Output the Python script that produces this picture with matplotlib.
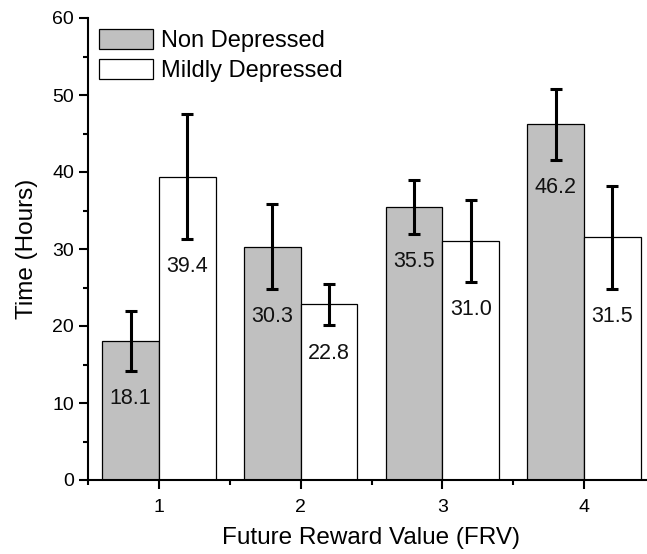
import matplotlib
matplotlib.use("Agg")
import matplotlib.pyplot as plt
import numpy as np
from matplotlib.ticker import MultipleLocator

plt.rcParams['font.family'] = ['Liberation Sans', 'DejaVu Sans']

categories = [1, 2, 3, 4]
non_depressed = [18.1, 30.3, 35.5, 46.2]
non_depressed_err = [3.9, 5.5, 3.5, 4.6]
mildly_depressed = [39.4, 22.8, 31.0, 31.5]
mildly_depressed_err = [8.1, 2.7, 5.3, 6.7]
series_names = ['Non Depressed', 'Mildly Depressed']

fig = plt.figure(figsize=(6.47, 5.54), dpi=100)
ax = fig.add_axes([88/647, 1-480/554, (655-88)/647, (480-18)/554])

x = np.array(categories, dtype=float)
w = 0.4
err_kw = dict(ecolor='black', elinewidth=2.2, capsize=4.5, capthick=2.2)
ax.bar(x - w/2, non_depressed, w, color='#c0c0c0', edgecolor='black',
       linewidth=0.9, label=series_names[0])
ax.bar(x + w/2, mildly_depressed, w, color='white', edgecolor='black',
       linewidth=0.9, label=series_names[1])
ax.errorbar(x - w/2, non_depressed, yerr=non_depressed_err, fmt='none', **err_kw)
ax.errorbar(x + w/2, mildly_depressed, yerr=mildly_depressed_err, fmt='none', **err_kw)

for xs, vals, errs in [(x - w/2, non_depressed, non_depressed_err),
                       (x + w/2, mildly_depressed, mildly_depressed_err)]:
    for xi, v, e in zip(xs, vals, errs):
        ax.annotate(f"{v:.1f}", (xi, v - e), xytext=(0, -20), textcoords='offset points',
                    ha='center', va='center', fontsize=15.5, color='#111111')

ax.set_xlim(0.5, 4.5)
ax.set_ylim(0, 60)
ax.set_xticks(categories)
ax.xaxis.set_minor_locator(MultipleLocator(0.5))
ax.yaxis.set_major_locator(MultipleLocator(10))
ax.yaxis.set_minor_locator(MultipleLocator(5))
for s in ['top', 'right']:
    ax.spines[s].set_visible(False)
for s in ['left', 'bottom']:
    ax.spines[s].set_linewidth(1.5)
ax.tick_params(axis='both', which='major', length=6.5, width=1.5, labelsize=14, direction='out')
ax.tick_params(axis='both', which='minor', length=3.5, width=1.5, direction='out')
ax.tick_params(axis='x', pad=7)

ax.set_xlabel('Future Reward Value (FRV)', fontsize=17.5, labelpad=8)
ax.set_ylabel('Time (Hours)', fontsize=17.5, labelpad=10)

leg = ax.legend(loc='upper left', bbox_to_anchor=(0.0, 1.0), frameon=False, fontsize=17,
                handlelength=2.3, handleheight=0.95, handletextpad=0.35, labelspacing=0.3,
                borderaxespad=0.0, borderpad=0.45)

fig.savefig('out.png', dpi=100)
